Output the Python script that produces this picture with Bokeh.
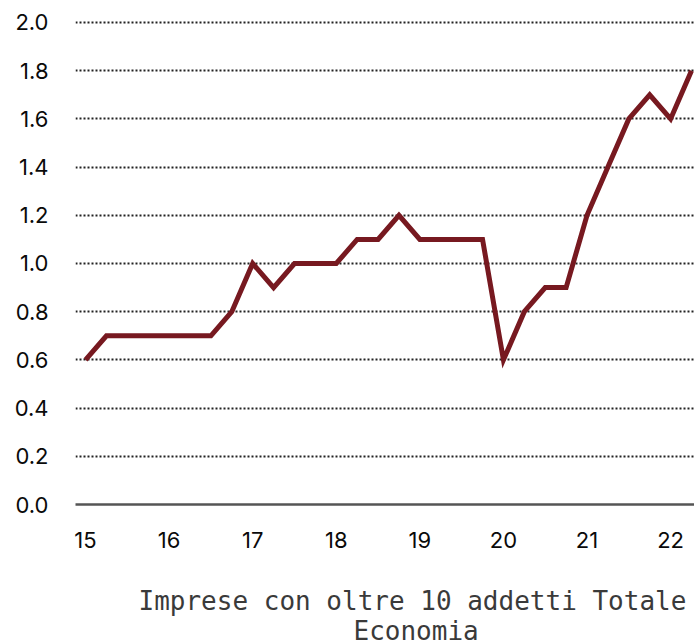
from bokeh.plotting import figure
from bokeh.models import FixedTicker, Range1d, Title, LinearAxis, NumeralTickFormatter
from bokeh.embed import file_html
from bokeh.resources import INLINE

# Quarterly data, 2015Q1 .. 2022Q2 (x in years, e.g. 15.25 = 2015Q2)
quarters = [15.00, 15.25, 15.50, 15.75,
            16.00, 16.25, 16.50, 16.75,
            17.00, 17.25, 17.50, 17.75,
            18.00, 18.25, 18.50, 18.75,
            19.00, 19.25, 19.50, 19.75,
            20.00, 20.25, 20.50, 20.75,
            21.00, 21.25, 21.50, 21.75,
            22.00, 22.25]
values = [0.6, 0.7, 0.7, 0.7,
          0.7, 0.7, 0.7, 0.8,
          1.0, 0.9, 1.0, 1.0,
          1.0, 1.1, 1.1, 1.2,
          1.1, 1.1, 1.1, 1.1,
          0.6, 0.8, 0.9, 0.9,
          1.2, 1.4, 1.6, 1.7,
          1.6, 1.8]
x_ticks = [15, 16, 17, 18, 19, 20, 21, 22]
y_ticks = [0.0, 0.2, 0.4, 0.6, 0.8, 1.0, 1.2, 1.4, 1.6, 1.8, 2.0]
title_lines = ["Imprese con oltre 10 addetti Totale", "Economia"]

p = figure(width=694, height=644, output_backend="svg", toolbar_location=None,
           x_range=Range1d(14.88, 22.286), y_range=Range1d(0, 2.029),
           min_border_left=75, min_border_right=0, min_border_top=15,
           min_border_bottom=140)
p.outline_line_color = None
p.background_fill_color = "white"

p.line(quarters, values, line_color="#771920", line_width=5, line_join="miter")

# axes
p.xaxis.ticker = FixedTicker(ticks=x_ticks)
p.yaxis.ticker = FixedTicker(ticks=y_ticks)
p.yaxis.formatter = NumeralTickFormatter(format="0.0")
for ax in (p.xaxis, p.yaxis):
    ax.major_tick_line_color = None
    ax.minor_tick_line_color = None
    ax.major_label_text_font = "Inter"
    ax.major_label_text_font_size = "22px"
    ax.major_label_text_color = "#0a0a0a"
p.yaxis.axis_line_color = None
p.yaxis.major_label_standoff = 21
p.xaxis.axis_line_color = "#555555"
p.xaxis.axis_line_width = 2.5
p.xaxis.major_label_standoff = 21

# invisible spacer (white tick, no label) between the tick labels and the caption
spacer = LinearAxis(ticker=FixedTicker(ticks=[x_ticks[0]]), axis_line_color=None,
                    major_tick_line_color="white", minor_tick_line_color=None,
                    major_tick_out=33, major_tick_in=0, minor_tick_out=0,
                    major_label_standoff=0, major_label_text_color=None)
p.add_layout(spacer, "below")

p.xgrid.grid_line_color = None
p.ygrid.grid_line_color = "#222222"
p.ygrid.grid_line_width = 1.8
p.ygrid.grid_line_dash = "2 2"
p.ygrid.ticker = FixedTicker(ticks=y_ticks[1:])

for text, off, so in zip(title_lines, [63, 278], [0, -4]):
    p.add_layout(Title(text=text, align="left", offset=off, standoff=so,
                       text_font="DejaVu Sans Mono", text_font_size="26px",
                       text_font_style="normal", text_color="#3a3a3a"), "below")

open("out.html", "w").write(file_html(p, INLINE))
